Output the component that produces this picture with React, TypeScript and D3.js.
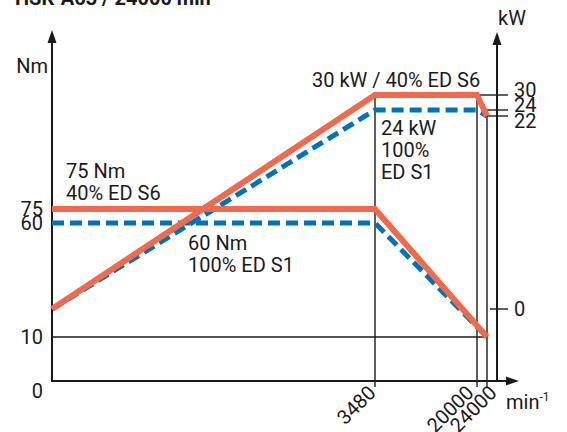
import React from "react";
import * as d3 from "d3";

// ---- data ----
const speedTicks = [3480, 20000, 24000];
const torqueTicks = [0, 10, 60, 75];
const powerTicks = [0, 22, 24, 30];

const torqueS6Speed = [0, 3480, 24000];
const torqueS6Value = [75, 75, 10];
const torqueS1Speed = [0, 3480, 24000];
const torqueS1Value = [60, 60, 10];

const powerS6Speed = [0, 3480, 20000, 24000];
const powerS6Value = [0, 30, 30, 22];
const powerS1Speed = [0, 3480, 20000, 24000];
const powerS1Value = [0, 24, 24, 22];

const title = "HSK-A63 / 24000 min";

// ---- layout ----
const W = 567;
const H = 432;
const FONT = "Roboto, 'Liberation Sans', sans-serif";
const ORANGE = "#ef6a4e";
const BLUE = "#0071bb";
const INK = "#1a1a1a";

const x = d3.scaleLinear().domain([0, 3480, 20000, 24000]).range([52, 375, 477, 487]);
const yT = d3.scaleLinear().domain([0, 10, 60, 75]).range([381, 337, 223, 209]);
const yP = d3.scaleLinear().domain([0, 22, 24, 30]).range([309, 116, 110, 95]);

const xAxisRight = 519;
const rightAxisX = 497;
const xLabelShift = [2, -2, 11];
const powerLabelShift = [0, 4.5, -5.5, -5.5];

export default function App() {
  const torqueLine = d3
    .line<[number, number]>()
    .x((d) => x(d[0]))
    .y((d) => yT(d[1]));
  const powerLine = d3
    .line<[number, number]>()
    .x((d) => x(d[0]))
    .y((d) => yP(d[1]));

  const zip = (a: number[], b: number[]) => a.map((v, i) => [v, b[i]] as [number, number]);

  const x0 = x(0);
  const yBase = yT(0);

  return (
    <svg
      width={W}
      height={H}
      viewBox={`0 0 ${W} ${H}`}
      style={{ position: "absolute", left: 0, top: 0, background: "#fff" }}
      fontFamily={FONT}
    >
      <rect width={W} height={H} fill="#fff" />
      {/* title (cut off at top) */}
      <text x={15} y={5} fontSize={20} fontWeight={700} fill={INK}>
        {title}
        <tspan dy={-8} fontSize={12}>-1</tspan>
      </text>

      {/* thin reference lines */}
      <g stroke={INK} strokeWidth={1.4} fill="none">
        <line x1={x0} x2={x(24000)} y1={yT(10)} y2={yT(10)} />
        <line x1={x(3480)} x2={x(3480)} y1={yP(30)} y2={yBase + 6} />
        <line x1={x(20000)} x2={x(20000)} y1={yP(30)} y2={yBase + 6} />
        <line x1={x(24000)} x2={x(24000)} y1={yP(22)} y2={yBase + 6} />
        {/* right ticks */}
        <line x1={x(20000)} x2={508} y1={yP(30)} y2={yP(30)} />
        <line x1={x(20000) + 4} x2={508} y1={yP(24)} y2={yP(24)} />
        <line x1={x(24000)} x2={508} y1={yP(22)} y2={yP(22)} />
        <line x1={490} x2={508} y1={yP(0)} y2={yP(0)} />
      </g>

      {/* axes */}
      <g stroke={INK} strokeWidth={2} fill="none">
        <line x1={x0} x2={x0} y1={yBase} y2={40} />
        <line x1={rightAxisX} x2={rightAxisX} y1={yBase} y2={42} />
        <line x1={x0 - 1} x2={xAxisRight - 8} y1={yBase} y2={yBase} />
      </g>
      <g fill={INK}>
        <path d={`M${x0},30 L${x0 - 4.5},43 L${x0 + 4.5},43 Z`} />
        <path d={`M${rightAxisX},32 L${rightAxisX - 4.5},45 L${rightAxisX + 4.5},45 Z`} />
        <path d={`M${xAxisRight},${yBase} L${xAxisRight - 13},${yBase - 4.5} L${xAxisRight - 13},${yBase + 4.5} Z`} />
      </g>

      {/* S1 curves (blue dashed) */}
      <g stroke={BLUE} strokeWidth={5} fill="none" strokeDasharray="12 6" strokeLinejoin="miter">
        <path d={powerLine(zip(powerS1Speed, powerS1Value)) || ""} />
        <path d={torqueLine(zip(torqueS1Speed, torqueS1Value)) || ""} />
      </g>
      {/* S6 curves (orange) */}
      <g stroke={ORANGE} strokeWidth={6} fill="none" strokeLinejoin="miter">
        <path d={powerLine(zip(powerS6Speed, powerS6Value)) || ""} />
        <path d={torqueLine(zip(torqueS6Speed, torqueS6Value)) || ""} />
      </g>

      {/* left tick labels */}
      <g fontSize={20} fill={INK} textAnchor="end">
        {torqueTicks.map((t) => (
          <text key={t} x={43} y={t === 0 ? yBase + 17 : yT(t) + 7}>
            {t}
          </text>
        ))}
        <text x={48} y={73}>Nm</text>
      </g>

      {/* right tick labels */}
      <g fontSize={20} fill={INK}>
        {powerTicks.map((p, i) => (
          <text key={p} x={514} y={yP(p) + 7 + powerLabelShift[i]}>
            {p}
          </text>
        ))}
        <text x={498} y={25}>kW</text>
      </g>

      {/* x tick labels */}
      <g fontSize={20} fill={INK} textAnchor="end">
        {speedTicks.map((s, i) => (
          <text
            key={s}
            transform={`translate(${x(s) + xLabelShift[i]},${yBase + 13}) rotate(-45)`}
          >
            {s}
          </text>
        ))}
      </g>
      <text x={506} y={409} fontSize={20} fill={INK}>
        min<tspan dy={-8} fontSize={12}>-1</tspan>
      </text>

      {/* annotations */}
      <g fontSize={20} fill={INK}>
        <text x={312} y={87}>30 kW / 40% ED S6</text>
        <text x={381} y={135}>24 kW</text>
        <text x={381} y={157}>100%</text>
        <text x={381} y={179}>ED S1</text>
        <text x={66} y={178}>75 Nm</text>
        <text x={66} y={200}>40% ED S6</text>
        <text x={188} y={250}>60 Nm</text>
        <text x={188} y={272}>100% ED S1</text>
      </g>
    </svg>
  );
}
